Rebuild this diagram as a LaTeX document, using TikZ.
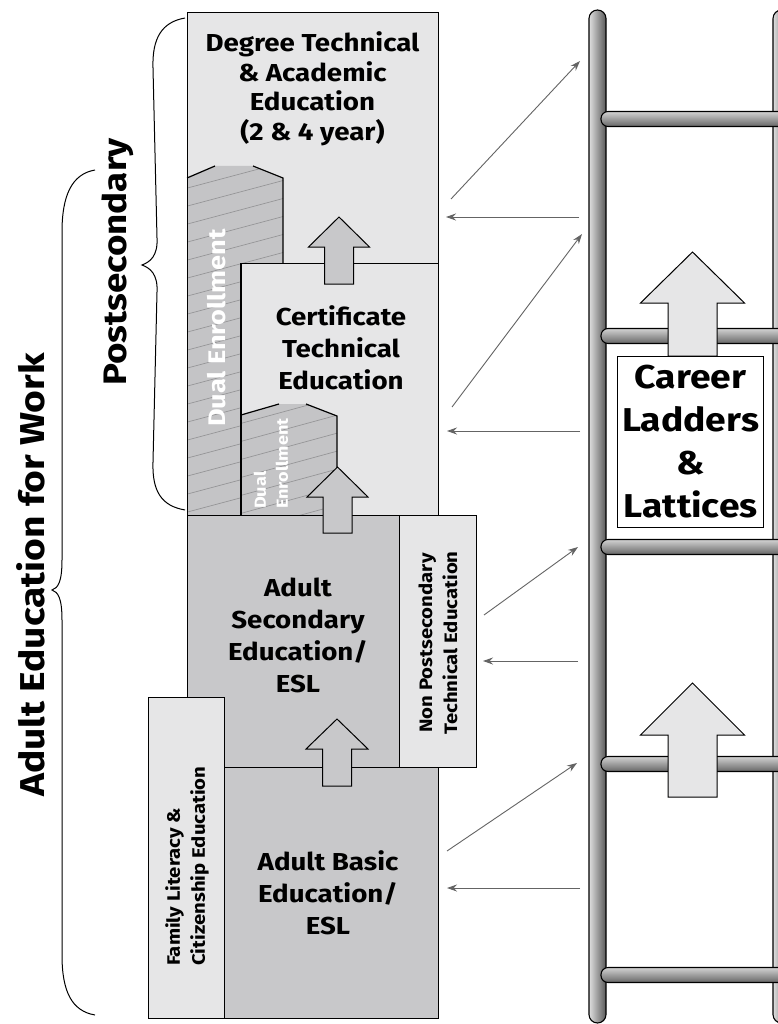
\documentclass[tikz,border=0pt]{standalone}
\usepackage{fontspec}
\setmainfont{Fira Sans}[BoldFont={Fira Sans Bold}, BoldFeatures={FakeStretch=1.13}]
\usetikzlibrary{arrows.meta}
\definecolor{lightg}{RGB}{230,230,231}
\definecolor{midg}{RGB}{200,200,202}
\definecolor{dualg}{RGB}{196,196,198}
\definecolor{hatchg}{RGB}{150,150,152}
\definecolor{thing}{RGB}{100,100,100}
\newcommand\myuparr[7]{%
  \path[#1] (#2,#3) -- (#2+#6,#4) -- (#2+#7,#4) -- (#2+#7,#5) -- (#2-#7,#5) -- (#2-#7,#4) -- (#2-#6,#4) -- cycle;}
\begin{document}
\begin{tikzpicture}[x=1pt,y=-1pt,
  box/.style={draw=black, line width=1.2pt},
  lbl/.style={font=\bfseries\fontsize{24.5}{32}\selectfont, align=center, text=black, inner sep=0pt},
  sidelbl/.style={font=\bfseries\fontsize{18}{25}\selectfont, align=center, text=black, inner sep=0pt, rotate=90},
  duallbl/.style={font=\bfseries\fontsize{24}{24}\selectfont, text=white, inner sep=0pt, rotate=90},
  biglbl/.style={font=\bfseries\fontsize{34.5}{36}\selectfont, text=black, inner sep=0pt, rotate=90},
  thinarrow/.style={draw=thing, line width=0.9pt, -{Stealth[length=10pt,width=7pt]}},
  blockarrow/.style={draw=black, line width=1pt, fill=midg},
  ladderarrow/.style={draw=black, line width=1pt, fill=lightg},
  hatchline/.style={draw=hatchg, line width=0.7pt},
  brace/.style={draw=black, line width=1pt},
  rail/.style={left color=gray!25, middle color=white, right color=black!65},
  rung/.style={top color=gray!35, middle color=white, bottom color=black!60},
]
\useasboundingbox (0,0) rectangle (778,1024);
\clip (0,0) rectangle (778,1024);
\fill[white] (0,0) rectangle (778,1024);

% ---------- Degree box ----------
\fill[lightg] (187,12) rectangle (438,515);
% big dual enrollment shape
\def\dualbig{(187,178) -- (215,166) -- (253,166) -- (283,178) -- (283,515) -- (187,515) -- cycle}
\fill[dualg] \dualbig;
\begin{scope}
  \clip \dualbig;
  \foreach \k in {0,...,22} \draw[hatchline] (180,190+18*\k) -- (300,158+18*\k);
\end{scope}
\draw[line width=1.2pt] (187,178) -- (215,166) (253,166) -- (283,178) -- (283,263);
\node[box, fill=none, minimum width=251pt, minimum height=503pt, anchor=north west, inner sep=0pt] (degree) at (187,12) {};
\node[lbl, font=\bfseries\fontsize{24.5}{29.5}\selectfont] (degreetxt) at (312.5,89) {Degree Technical\\\& Academic\\Education\\(2 \& 4 year)};
\node[duallbl] (dualbigtxt) at (217,328) {Dual Enrollment};

% ---------- Certificate box ----------
\node[box, fill=lightg, minimum width=197pt, minimum height=252pt, anchor=north west, inner sep=0pt] (cert) at (241,263) {};
\def\dualsmall{(241,415) -- (279,404) -- (306,404) -- (337,416) -- (337,515) -- (241,515) -- cycle}
\fill[dualg] \dualsmall;
\begin{scope}
  \clip \dualsmall;
  \foreach \k in {0,...,10} \draw[hatchline] (235,425+18*\k) -- (345,395+18*\k);
\end{scope}
\draw[line width=1.2pt] (241,415) -- (279,404) (306,404) -- (337,416) -- (337,515);
\draw[line width=1.2pt] (241,263) -- (241,515);
\node[lbl] (certtxt) at (341,348) {Certificate\\Technical\\Education};
\node[duallbl, font=\bfseries\fontsize{16}{22}\selectfont, align=left, anchor=west] (dualsmalltxt) at (271,509) {Dual\\Enrollment};
\myuparr{blockarrow}{339}{217}{247}{284}{30.5}{14.5}

% ---------- Adult Secondary + Non-postsecondary ----------
\node[box, fill=midg, minimum width=212pt, minimum height=252pt, anchor=north west, inner sep=0pt] (secondary) at (187,515) {};
\node[box, fill=lightg, minimum width=77pt, minimum height=252pt, anchor=north west, inner sep=0pt] (nonpost) at (399,515) {};
\node[lbl] (secondarytxt) at (298,635) {Adult\\Secondary\\Education/\\ESL};
\node[sidelbl] (nonposttxt) at (438,643) {Non Postsecondary\\Technical Education};
\myuparr{blockarrow}{337.5}{467}{497}{533}{30.5}{14.5}

% ---------- Adult Basic + Family ----------
\node[box, fill=midg, minimum width=214pt, minimum height=251pt, anchor=north west, inner sep=0pt] (basic) at (224,767) {};
\node[box, fill=lightg, minimum width=76pt, minimum height=321pt, anchor=north west, inner sep=0pt] (family) at (148,697) {};
\node[lbl] (basictxt) at (328,893) {Adult Basic\\Education/\\ESL};
\node[sidelbl, align=left, anchor=west] (familytxt) at (187,966) {Family Literacy \&\\Citizenship Education};
\myuparr{blockarrow}{337}{719}{749}{786}{31}{14.5}

% ---------- Braces and side labels ----------
\draw[brace] (95,170) .. controls (72,174) and (62,195) .. (62,232) -- (62,560)
  .. controls (62,582) and (58,588) .. (52,590) .. controls (58,592) and (62,598) .. (62,620)
  -- (62,955) .. controls (62,992) and (72,1011) .. (95,1015);
\draw[brace] (185,18) .. controls (162,22) and (152,38) .. (153,68) -- (157,238)
  .. controls (158,256) and (150,262) .. (142,265) .. controls (150,268) and (158,274) .. (157,292)
  -- (153,462) .. controls (152,492) and (162,506) .. (185,510);
\node[biglbl] (aefw) at (31,575) {Adult Education for Work};
\node[biglbl, font=\bfseries\fontsize{32.5}{34}\selectfont] (postsec) at (118,262) {Postsecondary};

% ---------- Ladder ----------
\shade[rail] (589,10) [rounded corners=8.5pt] rectangle (606,1023);
\draw[line width=1.1pt, rounded corners=8.5pt] (589,10) rectangle (606,1023);
\shade[rail] (773,10) [rounded corners=8.5pt] rectangle (790,1023);
\draw[line width=1.1pt, rounded corners=8.5pt] (773,10) rectangle (790,1023);
\foreach \ry in {119,336,547,764,975} {
  \shade[rung, rounded corners=7pt] (601,\ry-7.5) rectangle (800,\ry+7.5);
  \draw[line width=1.1pt, rounded corners=7pt] (601,\ry-7.5) rectangle (800,\ry+7.5);
}
\myuparr{ladderarrow}{692.5}{252}{303}{356}{52}{24.5}
\myuparr{ladderarrow}{692.5}{683}{735}{797}{52}{24.5}
\node[draw=black, line width=1.1pt, fill=white, minimum width=146pt, minimum height=171pt, anchor=north west, inner sep=0pt] (career) at (617,356) {};
\node[font=\bfseries\fontsize{33}{43}\selectfont, align=center, inner sep=0pt] (careertxt) at (career.center) {Career\\Ladders\\\&\\Lattices};

% ---------- Thin connectors ----------
\coordinate (a1s) at (451,199); \coordinate (a1e) at (580,61);
\coordinate (h1s) at (579,217); \coordinate (h1e) at (446,217);
\coordinate (a2s) at (452,407); \coordinate (a2e) at (582,234);
\coordinate (h2s) at (580,431); \coordinate (h2e) at (447,431);
\coordinate (a3s) at (484,615); \coordinate (a3e) at (578,547);
\coordinate (h3s) at (578,661); \coordinate (h3e) at (483,661);
\coordinate (a4s) at (447,851); \coordinate (a4e) at (577,763);
\coordinate (h4s) at (580,888); \coordinate (h4e) at (447,888);
\foreach \i in {1,2,3,4} {
  \draw[thinarrow] (a\i s) -- (a\i e);
  \draw[thinarrow] (h\i s) -- (h\i e);
}
\end{tikzpicture}
\end{document}
